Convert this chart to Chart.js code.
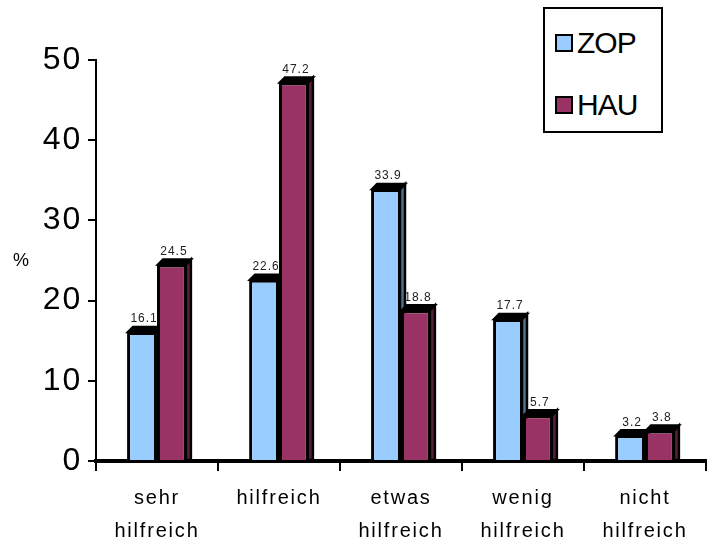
<!DOCTYPE html>
<html>
<head>
<meta charset="utf-8">
<script src="https://cdn.jsdelivr.net/npm/chart.js@4/dist/chart.umd.min.js"></script>
<style>
  html, body { margin: 0; padding: 0; background: #fff; overflow: hidden; }
  #wrap { position: relative; width: 707px; height: 544px; }
  #pct { position: absolute; left: 13px; top: 250px; font: 18px "Liberation Sans", Arial, sans-serif; color: #000; }
  #legend { position: absolute; left: 543px; top: 7px; width: 116px; height: 122px; border: 2px solid #000; background: #fff;
            font-family: "Liberation Sans", Arial, sans-serif; }
  .item { position: absolute; left: 10px; height: 34px; display: flex; align-items: center; }
  .sw { width: 14px; height: 14px; border: 2px solid #000; margin-right: 4px; }
  .lbl { font-size: 30px; letter-spacing: -1px; }
</style>
</head>
<body>
<div id="wrap">
  <canvas id="chart" width="707" height="544"></canvas>
  <div id="pct">%</div>
  <div id="legend"></div>
</div>
<script>
// Kategorien und Werte (%)
let categories = [['sehr', 'hilfreich'], 'hilfreich', ['etwas', 'hilfreich'], ['wenig', 'hilfreich'], ['nicht', 'hilfreich']]
let seriesNames = ['ZOP', 'HAU']
let zopValues = [16.1, 22.6, 33.9, 17.7, 3.2]
let hauValues = [24.5, 47.2, 18.8, 5.7, 3.8]
let yTicks = [0, 10, 20, 30, 40, 50]

let fillColors = ['#99CCFF', '#993366']
let sideColors = ['#4F6E8E', '#5A1E3D']
let depth = 5

// Legende
let legendBox = document.getElementById('legend')
seriesNames.forEach(function (name, i) {
    let div = document.createElement('div')
    div.className = 'item'
    div.style.top = (17 + i * 62) + 'px'
    div.innerHTML = '<span class="sw" style="background:' + fillColors[i] + '"></span><span class="lbl">' + name + '</span>'
    legendBox.appendChild(div)
})

// 3D Seiten + Deckel hinter den Balken zeichnen
let bar3d = {
    id: 'bar3d',
    beforeDraw(chart) {
        chart.ctx.letterSpacing = '1.8px'
    },
    beforeDatasetsDraw(chart) {
        let ctx = chart.ctx
        ctx.save()
        ctx.letterSpacing = '0px'
        ctx.lineWidth = 2.5
        ctx.strokeStyle = '#000'
        ctx.lineJoin = 'miter'
        for (let c = 0; c < categories.length; c++) {
            chart.data.datasets.forEach(function (ds, di) {
                let el = chart.getDatasetMeta(di).data[c]
                let left = el.x - el.width / 2
                let right = el.x + el.width / 2
                // Seite
                ctx.beginPath()
                ctx.moveTo(right - 1, el.y)
                ctx.lineTo(right - 1 + depth, el.y - depth)
                ctx.lineTo(right - 1 + depth, el.base)
                ctx.lineTo(right - 1, el.base)
                ctx.closePath()
                ctx.fillStyle = sideColors[di]
                ctx.fill()
                ctx.stroke()
                // Deckel
                ctx.beginPath()
                ctx.moveTo(left + 1, el.y)
                ctx.lineTo(left + 1 + depth, el.y - depth)
                ctx.lineTo(right - 1 + depth, el.y - depth)
                ctx.lineTo(right - 1, el.y)
                ctx.closePath()
                ctx.fillStyle = '#000'
                ctx.fill()
                ctx.stroke()
            })
        }
        ctx.restore()
    },
    afterDatasetsDraw(chart) {
        let ctx = chart.ctx
        ctx.save()
        ctx.letterSpacing = '1px'
        ctx.font = '12px "Liberation Sans", Arial, sans-serif'
        ctx.fillStyle = '#222'
        ctx.textAlign = 'center'
        ctx.textBaseline = 'bottom'
        chart.data.datasets.forEach(function (ds, di) {
            chart.getDatasetMeta(di).data.forEach(function (el, i) {
                ctx.fillText(ds.data[i].toFixed(1), el.x + 2, el.y - depth - 2)
            })
        })
        ctx.restore()
    }
}

let ctx = document.getElementById('chart').getContext('2d')
let chart = new Chart(ctx, {
    type: 'bar',
    data: {
        labels: categories,
        datasets: [
            {
                label: seriesNames[0],
                data: zopValues,
                backgroundColor: fillColors[0],
                borderColor: '#000',
                borderWidth: 3,
                borderSkipped: 'bottom'
            },
            {
                label: seriesNames[1],
                data: hauValues,
                backgroundColor: fillColors[1],
                borderColor: '#000',
                borderWidth: 3,
                borderSkipped: 'bottom'
            }
        ]
    },
    options: {
        responsive: false,
        animation: false,
        categoryPercentage: 0.49,
        barPercentage: 1.0,
        layout: { padding: { top: 60, right: 1, left: 0, bottom: 0 } },
        plugins: {
            legend: { display: false },
            tooltip: { enabled: false }
        },
        scales: {
            x: {
                grid: {
                    offset: true,
                    drawOnChartArea: false,
                    color: '#000',
                    lineWidth: 2,
                    tickLength: 10
                },
                border: { color: '#000', width: 4 },
                ticks: {
                    color: '#000',
                    padding: 11,
                    maxRotation: 0,
                    autoSkip: false,
                    font: { family: '"Liberation Sans", Arial, sans-serif', size: 20, lineHeight: 1.65 }
                },
                afterFit: function (scale) { scale.height = 83 }
            },
            y: {
                min: 0,
                max: 50,
                afterBuildTicks: function (scale) {
                    scale.ticks = yTicks.map(function (v) { return { value: v } })
                },
                grid: {
                    drawOnChartArea: false,
                    color: '#000',
                    lineWidth: 2,
                    tickLength: 8
                },
                border: { color: '#000', width: 2 },
                ticks: {
                    color: '#000',
                    padding: 6,
                    font: { family: '"Liberation Sans", Arial, sans-serif', size: 32 }
                },
                afterFit: function (scale) { scale.width = 96 }
            }
        }
    },
    plugins: [bar3d]
})
</script>
</body>
</html>
